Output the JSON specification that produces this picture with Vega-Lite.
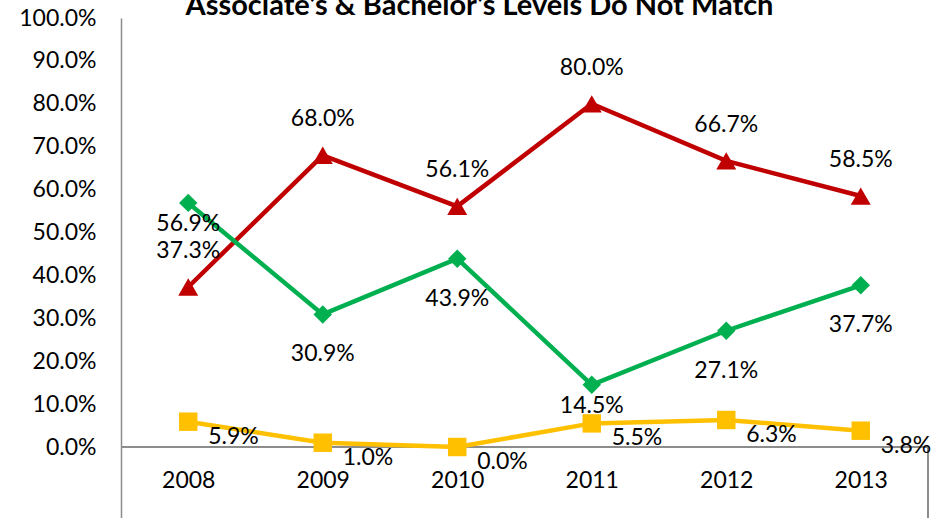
{
  "$schema": "https://vega.github.io/schema/vega-lite/v6.json",
  "width": 807,
  "height": 500,
  "autosize": {"type": "none"},
  "padding": {"left": 121, "top": 18, "right": 24, "bottom": 0},
  "background": "white",
  "config": {"view": {"stroke": null}, "font": "Lato"},
  "title": {
    "text": "Associate's & Bachelor's Levels Do Not Match",
    "fontSize": 29,
    "fontWeight": "bold",
    "font": "Lato",
    "anchor": "middle",
    "frame": "group",
    "dx": -45,
    "baseline": "alphabetic",
    "offset": -37,
    "color": "#000000"
  },
  "data": {
    "values": [
      {"year": 2008, "series": "Red", "value": 0.373},
      {"year": 2009, "series": "Red", "value": 0.680},
      {"year": 2010, "series": "Red", "value": 0.561},
      {"year": 2011, "series": "Red", "value": 0.800},
      {"year": 2012, "series": "Red", "value": 0.667},
      {"year": 2013, "series": "Red", "value": 0.585},
      {"year": 2008, "series": "Green", "value": 0.569},
      {"year": 2009, "series": "Green", "value": 0.309},
      {"year": 2010, "series": "Green", "value": 0.439},
      {"year": 2011, "series": "Green", "value": 0.145},
      {"year": 2012, "series": "Green", "value": 0.271},
      {"year": 2013, "series": "Green", "value": 0.377},
      {"year": 2008, "series": "Yellow", "value": 0.059},
      {"year": 2009, "series": "Yellow", "value": 0.010},
      {"year": 2010, "series": "Yellow", "value": 0.000},
      {"year": 2011, "series": "Yellow", "value": 0.055},
      {"year": 2012, "series": "Yellow", "value": 0.063},
      {"year": 2013, "series": "Yellow", "value": 0.038}
    ]
  },
  "encoding": {
    "x": {
      "field": "year",
      "type": "quantitative",
      "scale": {"domain": [2007.5, 2013.5], "nice": false, "zero": false},
      "axis": {
        "title": null,
        "values": [2008, 2009, 2010, 2011, 2012, 2013],
        "format": "d",
        "ticks": false,
        "domain": false,
        "grid": false,
        "offset": -71,
        "labelPadding": 22,
        "labelFontSize": 23,
        "labelFont": "Lato",
        "labelColor": "#000000",
        "labelFlush": false
      }
    },
    "y": {
      "field": "value",
      "type": "quantitative",
      "scale": {"domain": [-0.1655, 1.0], "nice": false, "zero": false},
      "axis": {
        "title": null,
        "values": [0, 0.1, 0.2, 0.3, 0.4, 0.5, 0.6, 0.7, 0.8, 0.9, 1.0],
        "format": ".1%",
        "ticks": false,
        "grid": false,
        "domainColor": "#8c8c8c",
        "domainWidth": 1.5,
        "labelPadding": 25,
        "labelFontSize": 23,
        "labelFont": "Lato",
        "labelColor": "#000000"
      }
    },
    "color": {
      "field": "series",
      "type": "nominal",
      "scale": {"domain": ["Red", "Green", "Yellow"], "range": ["#C00000", "#00B050", "#FFC000"]},
      "legend": null
    }
  },
  "layer": [
    {
      "mark": {"type": "rule", "color": "#8c8c8c", "strokeWidth": 1.5},
      "encoding": {
        "x": {"datum": 2007.5, "type": "quantitative"},
        "x2": {"datum": 2013.5},
        "y": {"datum": 0, "type": "quantitative"},
        "color": {"value": "#8c8c8c"}
      }
    },
    {
      "mark": {"type": "rule", "color": "#8c8c8c", "strokeWidth": 1.5},
      "encoding": {
        "x": {"datum": 2013.5, "type": "quantitative"},
        "y": {"datum": 0, "type": "quantitative"},
        "y2": {"datum": -0.1655},
        "color": {"value": "#8c8c8c"}
      }
    },
    {
      "mark": {"type": "line", "strokeWidth": 4.5},
      "encoding": {"detail": {"field": "series"}}
    },
    {
      "transform": [{"filter": "datum.series === 'Red'"}],
      "mark": {"type": "point", "shape": "triangle-up", "filled": true, "size": 400, "opacity": 1}
    },
    {
      "transform": [{"filter": "datum.series === 'Green'"}],
      "mark": {"type": "point", "shape": "diamond", "filled": true, "size": 340, "opacity": 1}
    },
    {
      "transform": [{"filter": "datum.series === 'Yellow'"}],
      "mark": {"type": "point", "shape": "square", "filled": true, "size": 340, "opacity": 1}
    },
    {
      "transform": [{"filter": "datum.series === 'Red'"}],
      "mark": {"type": "text", "dy": -36, "fontSize": 23, "font": "Lato", "color": "#000000"},
      "encoding": {"text": {"field": "value", "format": ".1%"}, "color": {"value": "#000000"}}
    },
    {
      "transform": [{"filter": "datum.series === 'Green' && datum.year !== 2008 && datum.year !== 2011"}],
      "mark": {"type": "text", "dy": 40, "fontSize": 23, "font": "Lato", "color": "#000000"},
      "encoding": {"text": {"field": "value", "format": ".1%"}, "color": {"value": "#000000"}}
    },
    {
      "transform": [{"filter": "datum.series === 'Green' && (datum.year === 2008 || datum.year === 2011)"}],
      "mark": {"type": "text", "dy": 21, "fontSize": 23, "font": "Lato", "color": "#000000"},
      "encoding": {"text": {"field": "value", "format": ".1%"}, "color": {"value": "#000000"}}
    },
    {
      "transform": [{"filter": "datum.series === 'Yellow'"}],
      "mark": {"type": "text", "dx": 20, "dy": 15, "align": "left", "fontSize": 23, "font": "Lato", "color": "#000000"},
      "encoding": {"text": {"field": "value", "format": ".1%"}, "color": {"value": "#000000"}}
    }
  ]
}
